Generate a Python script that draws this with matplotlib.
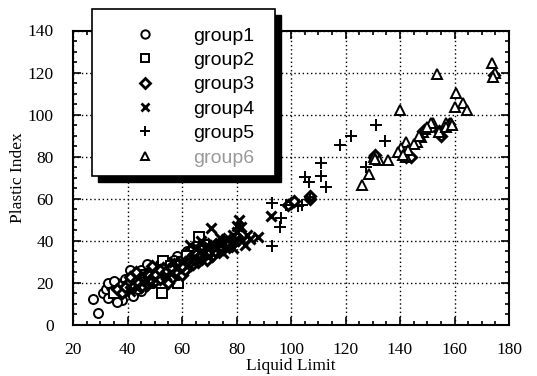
import matplotlib
matplotlib.use("Agg")
import matplotlib.pyplot as plt
from matplotlib.lines import Line2D
from matplotlib.patches import Rectangle
from matplotlib.ticker import MultipleLocator

# group1 - circles
g1_ll = [27.4, 29.3, 31, 32, 33, 34, 35, 36, 37, 38, 39, 40, 41, 42, 43, 44, 45, 46, 47,
         48, 49, 50, 52, 38, 42, 45, 55, 36, 53, 58, 60, 62, 64, 33, 35, 39, 41, 44, 47,
         51, 54, 57]
g1_pi = [12.2, 5.9, 15, 17, 13, 18, 16, 20, 14, 19, 22, 17, 21, 24, 19, 23, 26, 21, 25,
         28, 22, 27, 29, 12, 14, 16, 30, 11, 24, 33, 31, 35, 36, 20, 21, 16, 26, 17, 29,
         23, 28, 31]

# group2 - squares
g2_ll = [52.5, 58.6, 66.3, 53.1, 45, 48, 50, 56, 60, 62, 40, 44, 68, 35, 57]
g2_pi = [15, 20, 42, 30.4, 24, 20, 26, 28, 30, 33, 18, 21, 38, 15, 24]

# group3 - diamonds
g3_ll = [36, 38, 40, 42, 44, 46, 47, 48, 50, 51, 52, 53, 54, 55, 56, 57, 58, 59, 60, 61,
         62, 63, 64, 65, 66, 67, 68, 69, 70, 71, 72, 73, 74, 75, 76, 78, 80, 43, 49, 55,
         61, 39, 41, 45, 48, 50, 52, 54, 56, 58, 60, 63, 65, 67, 70, 72, 74, 77,
         100, 99, 101, 106.8, 107, 130.6, 131, 142.2, 144, 148.3, 154.4, 155, 158,
         174.5]
g3_pi = [17, 15, 20, 18, 20, 23, 19, 24, 21, 25, 22, 27, 23, 26, 22, 29, 25, 28, 24, 30,
         27, 32, 29, 34, 30, 33, 35, 31, 36, 33, 38, 35, 39, 36, 40, 38, 42, 25, 28, 20,
         26, 18, 23, 18, 21, 24, 26, 25, 27, 29, 28, 30, 31, 36, 34, 35, 37, 38,
         58, 57, 59, 60, 61.5, 80, 81, 80, 80, 92, 92, 90, 95.5, 119]

# group4 - crosses
g4_ll = [70.8, 81.1, 81.8, 87.9, 73.8, 78.6, 83, 78.6, 92.8, 60, 62, 64, 65, 66, 68, 69,
         70, 72, 74, 75, 76, 77, 79, 80, 82, 84, 58, 56, 63, 67, 71, 85, 80, 57, 54, 50,
         47, 44, 41]
g4_pi = [46, 50, 46.7, 42, 41.3, 42.8, 38, 36.6, 51.8, 30, 28, 32, 36, 31, 34, 38,
         33, 36, 38, 34, 41, 37, 40, 44, 40, 43, 27, 25, 38, 40, 39, 41, 47, 30, 24, 22,
         21, 18, 16]

# group5 - plus
g5_ll = [93.1, 95.8, 96.4, 93, 102.5, 106.8, 105, 106.5, 111, 111, 112.9, 118, 122,
         131.2, 134.6, 127.5, 98, 104]
g5_pi = [37.5, 46.7, 50.7, 58, 56.5, 61, 70.2, 68, 77, 70.8, 65.4, 85.5, 89.8,
         95, 87.6, 75.2, 57, 57]

# group6 - triangles
g6_ll = [173.7, 175, 153.4, 160.5, 163.2, 160, 164.5, 140, 158.7, 156.8, 152, 151.3,
         154.4, 148.3, 147.7, 146.4, 142.2, 140.3, 139.1, 142.2, 135.5, 132.4, 130.6,
         128.7, 126, 149, 150, 145, 143, 157, 159, 141, 147, 131, 174]
g6_pi = [124.4, 120, 119.3, 110.4, 105.4, 103.5, 102.2, 102.2, 96.2, 96.2, 96.2, 95.9,
         91.9, 91.9, 89.5, 87.1, 87.1, 84, 82.4, 80, 78.4, 78.4, 80,
         71.8, 66.5, 93, 94, 86, 83, 94, 95, 81, 90, 79, 118]

labels = ["group1", "group2", "group3", "group4", "group5", "group6"]

serif = "Liberation Serif"
sans = "Liberation Sans"

W, H = 537, 376
fig = plt.figure(figsize=(W / 100, H / 100), dpi=100)
ax = fig.add_axes([73 / W, 1 - 325 / H, (509 - 73) / W, (325 - 30.5) / H])

mk = dict(linestyle="none", markerfacecolor="white", markeredgecolor="black",
          markeredgewidth=1.4, markersize=6.5)
ax.plot(g1_ll, g1_pi, marker="o", **mk)
ax.plot(g2_ll, g2_pi, marker="s", **mk)
ax.plot(g3_ll, g3_pi, marker="D", **{**mk, "markersize": 5.5, "markeredgewidth": 2.2})
ax.plot(g4_ll, g4_pi, marker="x", **{**mk, "markersize": 7, "markeredgewidth": 2.2})
ax.plot(g5_ll, g5_pi, marker="+", **{**mk, "markersize": 8})
ax.plot(g6_ll, g6_pi, marker="^", **mk)

ax.set_xlim(20, 180)
ax.set_ylim(0, 140)
ax.xaxis.set_major_locator(MultipleLocator(20))
ax.xaxis.set_minor_locator(MultipleLocator(5))
ax.yaxis.set_major_locator(MultipleLocator(20))
ax.yaxis.set_minor_locator(MultipleLocator(5))
ax.tick_params(which="both", direction="in", top=True, right=True, width=1.2)
ax.tick_params(which="major", length=6, labelsize=12.5)
ax.tick_params(axis="y", which="major", pad=14)
ax.tick_params(axis="x", which="major", pad=12)
ax.tick_params(which="minor", length=3)
for lab in ax.get_xticklabels() + ax.get_yticklabels():
    lab.set_family(serif)
ax.grid(True, which="major", color="black", linestyle=(0, (1, 2)), linewidth=1)
for s in ax.spines.values():
    s.set_linewidth(1.5)

ax.set_xlabel("Liquid Limit", family=serif, fontsize=12.5, labelpad=0)
ax.set_ylabel("Plastic Index", family=serif, fontsize=12.5, labelpad=1)

# legend box with heavy drop shadow
bx0, by0, bx1, by1 = 92, 9, 275, 176
fig.add_artist(Rectangle(((bx0 + 6) / W, 1 - (by1 + 6) / H), (bx1 - bx0) / W,
                         (by1 - by0) / H, transform=fig.transFigure,
                         facecolor="black", edgecolor="black", zorder=5))
fig.add_artist(Rectangle((bx0 / W, 1 - by1 / H), (bx1 - bx0) / W, (by1 - by0) / H,
                         transform=fig.transFigure, facecolor="white",
                         edgecolor="black", linewidth=1.2, zorder=5.5))

handles = [
    Line2D([], [], marker="o", **{**mk, "markersize": 6}),
    Line2D([], [], marker="s", **{**mk, "markersize": 6}),
    Line2D([], [], marker="D", **{**mk, "markersize": 5, "markeredgewidth": 2}),
    Line2D([], [], marker="x", **{**mk, "markersize": 6, "markeredgewidth": 2}),
    Line2D([], [], marker="+", **{**mk, "markersize": 7}),
    Line2D([], [], marker="^", **{**mk, "markersize": 6}),
]
fs = 14
leg = fig.legend(handles, labels, loc="upper left", frameon=False,
                 bbox_to_anchor=((145 - 0.5 * fs * 1.39) / W, 1 - 27 / H),
                 borderpad=0, borderaxespad=0, handlelength=1.0,
                 handletextpad=1.95, labelspacing=0.35,
                 prop={"family": sans, "size": fs})
leg.set_zorder(6)
leg.get_texts()[5].set_color("#999999")

fig.savefig("out.png", dpi=100)
